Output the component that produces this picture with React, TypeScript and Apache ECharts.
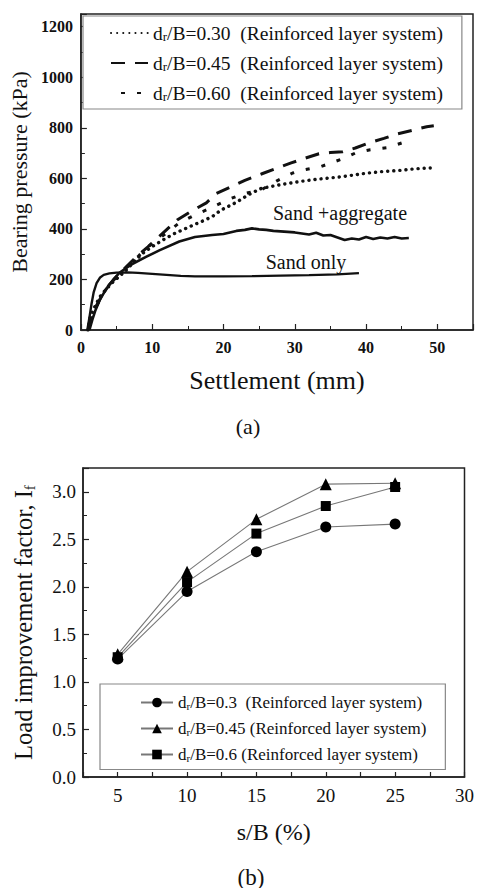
import React, { useEffect, useRef } from "react";
import * as echarts from "echarts";

// ---------- Chart (a): bearing pressure vs settlement ----------
const sandOnly: number[][] = [
  [0.9, 0], [1.2, 50], [1.5, 105], [1.8, 150], [2.2, 185], [2.7, 208], [3.2, 218], [4, 224], [5, 227], [6.5, 228],
  [8, 226], [10, 222], [12, 218], [14, 214], [16, 212], [20, 212], [24, 213], [28, 215], [32, 217], [36, 220], [39, 225],
];
const sandAggregate: number[][] = [
  [1.2, 0], [1.6, 40], [2, 75], [2.65, 119], [3.5, 160], [4.5, 198], [5.4, 226], [7, 258], [9.2, 290], [11, 315],
  [13.8, 350], [16, 368], [18.4, 376], [20, 380], [21.8, 392], [23, 396], [24, 402], [25, 398], [26, 396], [27, 392],
  [28, 390], [30, 386], [32, 378], [33, 385], [34, 374], [35, 376], [36, 366], [37, 356], [38, 362], [39, 358],
  [40, 368], [41, 360], [42, 366], [43, 362], [44, 368], [45, 362], [46, 364],
];
const dr030: number[][] = [
  [1, 0], [1.3, 52], [2, 95], [2.65, 131], [3.5, 160], [4.5, 190], [5.5, 215], [6.4, 238], [7.5, 272], [8.7, 304],
  [10, 330], [11.5, 356], [13, 380], [15.2, 408], [17, 430], [18.4, 448], [19.7, 475], [21.8, 505], [23.5, 535],
  [25.3, 560], [28, 575], [30.9, 588], [33, 596], [36.5, 606], [40, 620], [42, 626], [45, 632], [47, 638], [49, 641],
];
const dr045: number[][] = [
  [1, 0], [1.5, 45], [2, 85], [3, 140], [4, 180], [5, 210], [6, 240], [7, 268], [8, 295], [9.4, 329], [11, 370],
  [13.5, 435], [15.5, 470], [17.6, 503], [19, 540], [21, 566], [23, 592], [25.4, 618], [27.5, 640], [29.5, 661],
  [31.5, 680], [33.4, 697], [35, 702], [36.7, 705], [38.5, 720], [40.4, 740], [42.5, 758], [44.4, 776], [46.5, 790],
  [48.5, 804], [49.5, 808],
];
const dr060: number[][] = [
  [1, 0], [1.5, 45], [2, 85], [3, 140], [4, 180], [5, 210], [6, 238], [7, 265], [8, 290], [9.2, 325], [11, 362],
  [13.8, 424], [16, 455], [18, 480], [21, 520], [23, 540], [25.3, 554], [27.5, 590], [29.7, 621], [31.5, 635],
  [33.6, 646], [35, 660], [37, 680], [38.5, 700], [40.6, 713], [43, 721], [45, 740],
];
const topNames = [
  "dr/B=0.30  (Reinforced layer system)",
  "dr/B=0.45  (Reinforced layer system)",
  "dr/B=0.60  (Reinforced layer system)",
];

// ---------- Chart (b): load improvement factor ----------
const sOverB = [5, 10, 15, 20, 25];
const if030 = [1.24, 1.95, 2.37, 2.63, 2.66];
const if045 = [1.29, 2.16, 2.71, 3.08, 3.09];
const if060 = [1.26, 2.05, 2.56, 2.85, 3.05];
const bottomNames = [
  "dr/B=0.3  (Reinforced layer system)",
  "dr/B=0.45 (Reinforced layer system)",
  "dr/B=0.6 (Reinforced layer system)",
];

const SERIF = "Liberation Serif";

const tok = (size: number, weight: string = "normal", extra: any = {}) => ({
  fontFamily: SERIF, fontSize: size, fontWeight: weight, color: "#111", ...extra,
});
const legendRich = (size: number, lh: number) => ({
  n: tok(size, "normal", { lineHeight: lh, verticalAlign: "middle" }),
  s: tok(Math.round(size * 0.65), "normal", { lineHeight: lh, verticalAlign: "bottom" }),
});
const legendFormatter = (name: string) => `{n|d}{s|r}{n|${name.slice(2)}}`;
const gText = (x: number, y: number, text: string, size: number) => ({
  type: "text", x, y,
  style: {
    text: `{t|${text}}`, align: "center", verticalAlign: "middle",
    rich: { t: { fontFamily: SERIF, fontSize: size, fill: "#111" } },
  },
});

export default function App() {
  const ref = useRef<HTMLDivElement>(null);
  useEffect(() => {
    document.body.style.margin = "0";
    const chart = echarts.init(ref.current!, undefined, { renderer: "svg" });
    const axisLine = { show: true, lineStyle: { color: "#222", width: 1.5 } };
    const pairs = (ys: number[]) => sOverB.map((x, i) => [x, ys[i]]);
    const option: any = {
      animation: false,
      backgroundColor: "#fff",
      textStyle: { fontFamily: SERIF },
      grid: [
        { left: 79, top: 14, width: 394, height: 316, show: true, borderColor: "#222", borderWidth: 1.5, backgroundColor: "transparent" },
        { left: 83, top: 468, width: 383, height: 309, show: true, borderColor: "#222", borderWidth: 1.5, backgroundColor: "transparent" },
      ],
      xAxis: [
        {
          gridIndex: 0, type: "value", min: 0, max: 55, interval: 10,
          axisLine, splitLine: { show: false },
          axisTick: { inside: true, length: 6, lineStyle: { color: "#222", width: 1.2 } },
          minorTick: { show: true, splitNumber: 2, length: 4, lineStyle: { color: "#222", width: 1 } },
          axisLabel: {
            margin: 9, rich: { t: tok(16, "bold") },
            formatter: (v: number) => (v % 10 === 0 ? `{t|${v}}` : ""),
          },
          name: "{t|Settlement (mm)}", nameLocation: "middle", nameGap: 37,
          nameTextStyle: { rich: { t: tok(26) } },
        },
        {
          gridIndex: 1, type: "value", min: 2.5, max: 30, interval: 2.5,
          axisLine, splitLine: { show: false },
          axisTick: { inside: true, length: 5, lineStyle: { color: "#222", width: 1.2 } },
          axisLabel: {
            margin: 9, rich: { t: tok(19) },
            formatter: (v: number) => (v % 5 === 0 ? `{t|${v}}` : ""),
          },
          name: "{t|s/B (%)}", nameLocation: "middle", nameGap: 43,
          nameTextStyle: { rich: { t: tok(24) } },
        },
      ],
      yAxis: [
        {
          gridIndex: 0, type: "value", min: 0, max: 1250, interval: 200,
          axisLine, splitLine: { show: false },
          axisTick: { inside: true, length: 6, lineStyle: { color: "#222", width: 1.2 } },
          minorTick: { show: true, splitNumber: 2, length: 4, lineStyle: { color: "#222", width: 1 } },
          axisLabel: {
            margin: 8, rich: { t: tok(16, "bold") },
            formatter: (v: number) => (v % 200 === 0 ? `{t|${v}}` : ""),
          },
          name: "{t|Bearing pressure (kPa)}", nameLocation: "middle", nameGap: 50,
          nameTextStyle: { rich: { t: tok(22) } },
        },
        {
          gridIndex: 1, type: "value", min: 0, max: 3.25, interval: 0.5,
          axisLine, splitLine: { show: false },
          axisTick: { inside: true, length: 6, lineStyle: { color: "#222", width: 1.2 } },
          minorTick: { show: true, splitNumber: 2, length: 4, lineStyle: { color: "#222", width: 1 } },
          axisLabel: {
            margin: 7, rich: { t: tok(19) },
            formatter: (v: number) => (Math.abs(v * 2 - Math.round(v * 2)) < 1e-6 ? `{t|${v.toFixed(1)}}` : ""),
          },
          name: "{n|Load improvement factor, I}{s|f}", nameLocation: "middle", nameGap: 46,
          nameTextStyle: {
            rich: {
              n: tok(24.5, "normal", { lineHeight: 28, verticalAlign: "middle" }),
              s: tok(15, "normal", { lineHeight: 28, verticalAlign: "bottom" }),
            },
          },
        },
      ],
      legend: [
        {
          data: topNames, orient: "vertical", left: 83, top: 16,
          padding: [7, 19, 6, 27], itemGap: 10, itemWidth: 37, itemHeight: 14,
          borderColor: "#888", borderWidth: 1.2, backgroundColor: "#fff",
          itemStyle: { opacity: 0 },
          formatter: legendFormatter, textStyle: { rich: legendRich(19.5, 20) },
        },
        {
          data: bottomNames, orient: "vertical", left: 100, top: 684,
          padding: [10, 19, 6, 40], itemGap: 8.5, itemWidth: 32, itemHeight: 12,
          borderColor: "#888", borderWidth: 1.2, backgroundColor: "#fff",
          formatter: legendFormatter, textStyle: { rich: legendRich(17, 18) },
        },
      ],
      series: [
        {
          name: "Sand only", type: "line", xAxisIndex: 0, yAxisIndex: 0, data: sandOnly, symbol: "none",
          lineStyle: { color: "#111", width: 2.4 }, z: 3,
        },
        {
          name: "Sand +aggregate", type: "line", xAxisIndex: 0, yAxisIndex: 0, data: sandAggregate, symbol: "none",
          lineStyle: { color: "#111", width: 2.6 }, z: 3,
        },
        {
          name: topNames[0], type: "line", xAxisIndex: 0, yAxisIndex: 0, data: dr030, symbol: "none",
          itemStyle: { color: "#111" },
          lineStyle: { color: "#111", width: 3.4, type: [0.1, 6], cap: "round" },
        },
        {
          name: topNames[1], type: "line", xAxisIndex: 0, yAxisIndex: 0, data: dr045, symbol: "none",
          itemStyle: { color: "#111" },
          lineStyle: { color: "#111", width: 3, type: [14, 10] },
        },
        {
          name: topNames[2], type: "line", xAxisIndex: 0, yAxisIndex: 0, data: dr060, symbol: "none",
          itemStyle: { color: "#111" },
          lineStyle: { color: "#111", width: 3, type: [4, 12], dashOffset: 6 },
        },
        {
          name: bottomNames[0], type: "line", xAxisIndex: 1, yAxisIndex: 1, data: pairs(if030),
          symbol: "circle", symbolSize: 11, itemStyle: { color: "#000" },
          lineStyle: { color: "#777", width: 1.1 },
        },
        {
          name: bottomNames[1], type: "line", xAxisIndex: 1, yAxisIndex: 1, data: pairs(if045),
          symbol: "triangle", symbolSize: 12, itemStyle: { color: "#000" },
          lineStyle: { color: "#777", width: 1.1 },
        },
        {
          name: bottomNames[2], type: "line", xAxisIndex: 1, yAxisIndex: 1, data: pairs(if060),
          symbol: "rect", symbolSize: 10, itemStyle: { color: "#000" },
          lineStyle: { color: "#777", width: 1.1 },
        },
      ],
      graphic: [
        gText(340, 213, "Sand +aggregate", 20),
        gText(306, 262, "Sand only", 20),
        gText(248, 426, "(a)", 22),
        gText(251, 877, "(b)", 23),
      ],
    };
    chart.setOption(option);
    return () => chart.dispose();
  }, []);
  return <div ref={ref} style={{ width: 477, height: 888 }} />;
}
